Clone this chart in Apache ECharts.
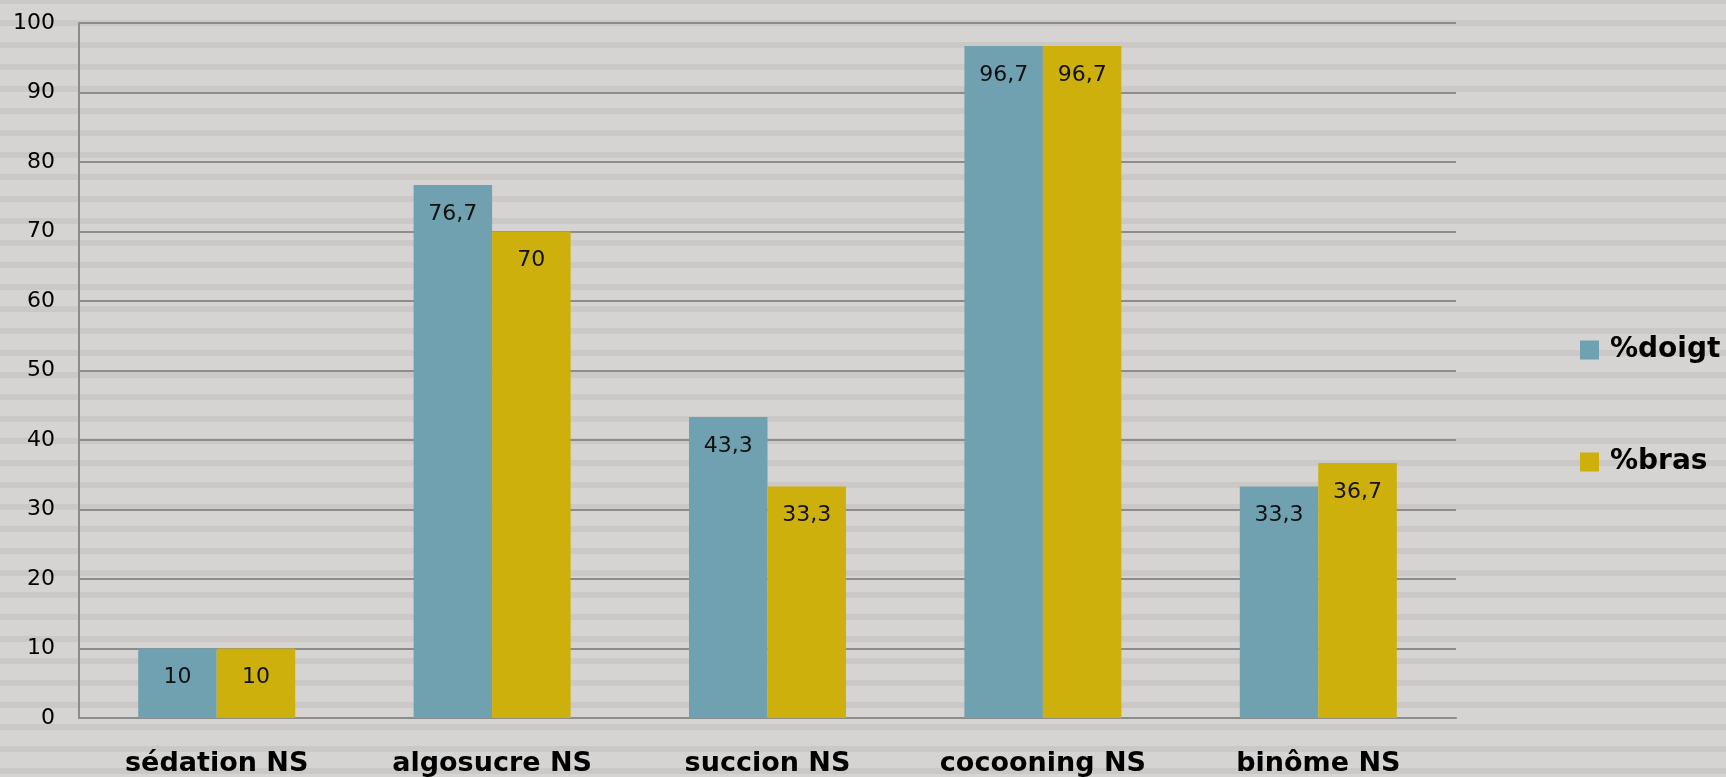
<!DOCTYPE html>
<html>
<head>
<meta charset="utf-8">
<script src="https://cdn.jsdelivr.net/npm/echarts@6/dist/echarts.min.js"></script>
<style>
html,body{margin:0;padding:0;}
#chart{width:1726px;height:777px;
background:repeating-linear-gradient(to bottom,#ccc8c5 0px,#ccc8c5 4px,#d5d4d3 4px,#d5d4d3 20px,#ccc8c5 20px,#ccc8c5 22px);}
</style>
</head>
<body>
<div id="chart"></div>
<script>
const categories = ['sédation NS', 'algosucre NS', 'succion NS', 'cocooning NS', 'binôme NS'];
const doigtValues = [10, 76.7, 43.3, 96.7, 33.3];
const brasValues = [10, 70, 33.3, 96.7, 36.7];
const seriesNames = ['%doigt', '%bras'];

const FONT = 'DejaVu Sans';
const fmt = p => String(p.value).replace('.', ',');
const labelCfg = {show: true, position: 'insideTop', distance: 18, formatter: fmt,
  color: '#111', fontSize: 22, fontFamily: FONT};

const chart = echarts.init(document.getElementById('chart'), null, {renderer: 'canvas'});
chart.setOption({
  backgroundColor: 'transparent',
  animation: false,
  grid: {left: 79, right: 270, top: 23, bottom: 59, containLabel: false},
  legend: {
    orient: 'vertical', left: 1575, top: 330, itemWidth: 19, itemHeight: 19, itemGap: 82,
    icon: 'rect',
    textStyle: {fontFamily: FONT, fontWeight: 'bold', fontSize: 28, color: '#000', lineHeight: 30, padding: [0,0,0,6]},
    data: seriesNames
  },
  xAxis: {
    type: 'category', data: categories,
    axisLine: {lineStyle: {color: '#8c8c8c', width: 2}},
    axisTick: {show: false},
    axisLabel: {fontFamily: FONT, fontWeight: 'bold', fontSize: 27, color: '#000', margin: 32}
  },
  yAxis: {
    type: 'value', min: 0, max: 100, interval: 10,
    axisLine: {show: true, lineStyle: {color: '#8c8c8c', width: 2}},
    axisTick: {show: false},
    splitLine: {lineStyle: {color: '#8c8c8c', width: 2}},
    axisLabel: {fontFamily: FONT, fontSize: 22, color: '#000', margin: 24}
  },
  series: [
    {name: seriesNames[0], type: 'bar', data: doigtValues, barWidth: '28.5%', barGap: '0%',
     itemStyle: {color: '#70a1b1'}, label: labelCfg},
    {name: seriesNames[1], type: 'bar', data: brasValues, barWidth: '28.5%', barGap: '0%',
     itemStyle: {color: '#cdb00c'}, label: labelCfg}
  ]
});
</script>
</body>
</html>
